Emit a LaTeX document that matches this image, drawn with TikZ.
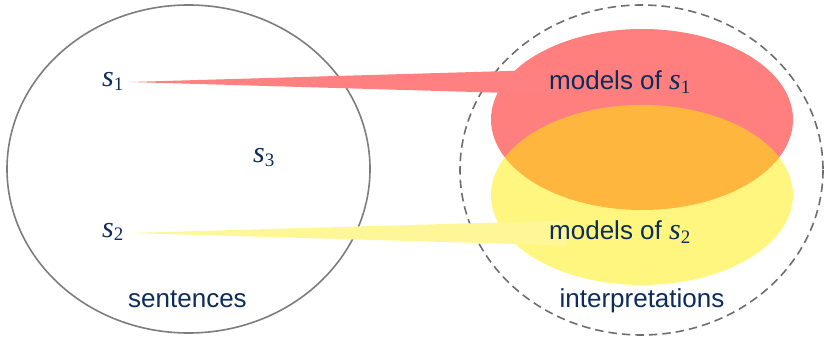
\documentclass[tikz,border=0pt]{standalone}
\usepackage{fontspec}
\setmainfont{Liberation Sans}
\newfontfamily\mathserif{Liberation Serif}
\usetikzlibrary{calc}

\definecolor{textblue}{RGB}{12,44,92}
\definecolor{ringgray}{RGB}{125,125,125}
\definecolor{dashgray}{RGB}{110,110,110}
\definecolor{setred}{RGB}{255,0,0}
\definecolor{setyellow}{RGB}{255,238,0}
\definecolor{redwedge}{RGB}{255,128,128}
\definecolor{yellowwedge}{RGB}{255,246,152}

% italic sentence variable with a subscript
\newcommand\svar[1]{{\mathserif\fontsize{30}{32}\selectfont\itshape s}\raisebox{-3.5pt}{\mathserif\fontsize{19}{20}\selectfont #1}}

\begin{document}
\begin{tikzpicture}[x=1pt,y=-1pt,
  lbl/.style={text=textblue, font=\fontsize{26}{30}\selectfont, inner sep=0pt},
  ring/.style={draw=ringgray, line width=1.6pt},
  dashring/.style={draw=dashgray, line width=1.6pt, dash pattern=on 8.5pt off 5pt},
  modelset/.style={fill=#1, fill opacity=0.5}]
\useasboundingbox (0,0) rectangle (827,339);

% the set of sentences and the set of interpretations
\draw[ring] (188.5,169) ellipse [x radius=181.5, y radius=164];
\draw[dashring] (641.5,170) ellipse [x radius=181.5, y radius=165];

% models of the two sentences
\fill[modelset=setred] (642,119.5) ellipse [x radius=151, y radius=90.5];
\fill[modelset=setyellow] (642,195) ellipse [x radius=151, y radius=90];

% pointers from each sentence to its models
\coordinate (p1) at (130,82);
\coordinate (p2) at (130,233);
\fill[redwedge] (p1) -- (560,69.5) -- (560,94.5) -- cycle;
\fill[yellowwedge] (p2) -- (567,220.5) -- (567,245.5) -- cycle;

% labels
\node[lbl, anchor=base west] (s1) at (102,87) {\svar{1}};
\node[lbl, anchor=base west] (s2) at (102,237) {\svar{2}};
\node[lbl, anchor=base west] (s3) at (253,163) {\svar{3}};
\node[lbl, anchor=base west] (m1) at (549,90) {models of \svar{1}};
\node[lbl, anchor=base west] (m2) at (549,240) {models of \svar{2}};
\node[lbl, anchor=base] (sent) at (187.5,307) {sentences};
\node[lbl, anchor=base] (interp) at (642,307) {interpretations};
\end{tikzpicture}
\end{document}
